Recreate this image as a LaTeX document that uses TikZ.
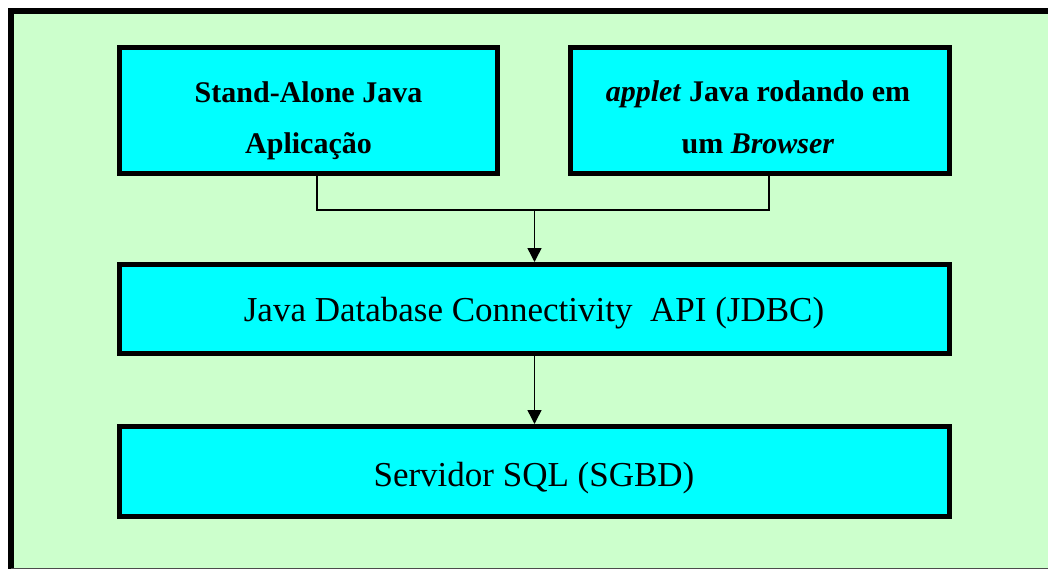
\documentclass[tikz,border=0pt]{standalone}
\usepackage{fontspec}
\setmainfont{Liberation Serif}
\usetikzlibrary{arrows.meta}
\definecolor{panelgreen}{HTML}{CCFFCC}
\definecolor{boxcyan}{HTML}{00FFFF}
\tikzset{
  layerbox/.style={draw=black, fill=boxcyan, line width=5pt, inner sep=0pt,
    minimum width=#1, minimum height=126pt},
  boldline/.style={font=\fontsize{30}{36}\selectfont\bfseries, anchor=base, inner sep=0pt},
  plainline/.style={font=\fontsize{35}{42}\selectfont, anchor=base, inner sep=0pt},
  link/.style={draw=black, line width=1.5pt},
  flow/.style={link, -{Triangle[length=14pt,width=14pt]}}
}
\begin{document}
\begin{tikzpicture}[x=1pt,y=-1pt]
  % page and panel
  \useasboundingbox (0,0) rectangle (1048,569);
  \fill[white] (0,0) rectangle (1048,569);
  \fill[panelgreen] (11,11) rectangle (1048,569);
  \draw[line width=6pt, line cap=rect] (11,569) -- (11,11) -- (1048,11);
  \draw[line width=1pt, black!70] (11,568.5) -- (1048,568.5);

  % client boxes
  \node[layerbox=378pt] (app) at (308.5,110.5) {};
  \node[layerbox=379pt] (applet) at (760,110.5) {};
  % API and server boxes
  \node[layerbox=830pt, minimum height=89pt] (jdbc) at (534.5,309) {};
  \node[layerbox=830pt, minimum height=90pt] (sgbd) at (534.5,471.5) {};

  % box labels
  \node[boldline] (appA) at (308.5,102.7) {Stand-Alone Java};
  \node[boldline] (appB) at (308.5,154) {Aplicação};
  \node[boldline] (appletA) at (758,101.7) {\textit{applet} Java rodando em};
  \node[boldline] (appletB) at (758,154) {um \textit{Browser}};
  \node[plainline] (jdbcText) at (534,321.5) {Java Database Connectivity\ \ API (JDBC)};
  \node[plainline] (sgbdText) at (534,486.7) {Servidor SQL (SGBD)};

  % connectors
  \coordinate (join) at (jdbc.north |- 0,210);
  \draw[link] ([xshift=8.5pt]app.south) |- (join);
  \draw[link] ([xshift=9pt]applet.south) |- (join);
  \draw[flow] (join) -- (jdbc.north);
  \draw[flow] (jdbc.south) -- (sgbd.north);
\end{tikzpicture}
\end{document}
